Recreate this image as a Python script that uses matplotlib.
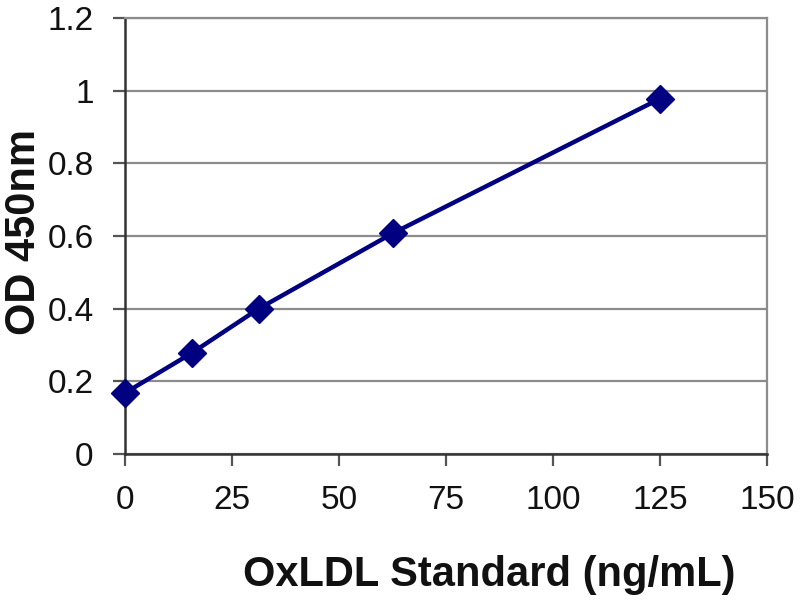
import matplotlib
matplotlib.use("Agg")
import matplotlib.pyplot as plt

conc = [0, 15.6, 31.25, 62.5, 125]
od = [0.168, 0.278, 0.400, 0.607, 0.978]
xticks = [0, 25, 50, 75, 100, 125, 150]
yticks = [0, 0.2, 0.4, 0.6, 0.8, 1.0, 1.2]
yticklabels = ["0", "0.2", "0.4", "0.6", "0.8", "1", "1.2"]

plt.rcParams['font.family'] = ['Liberation Sans', 'DejaVu Sans']

fig = plt.figure(figsize=(8, 6), dpi=100)
ax = fig.add_axes([125/800, 1-454/600, (767-125)/800, (454-18)/600])

ax.set_xlim(0, 150)
ax.set_ylim(0, 1.2)
ax.set_yticks(yticks)
ax.set_yticklabels(yticklabels)
ax.set_xticks(xticks)
ax.set_xticklabels([str(t) for t in xticks])

ax.grid(axis='y', color='#8c8c8c', linewidth=1.6)
ax.set_axisbelow(True)

for s in ['top', 'right']:
    ax.spines[s].set_color('#8c8c8c')
    ax.spines[s].set_linewidth(1.6)
for s in ['left', 'bottom']:
    ax.spines[s].set_color('#333333')
    ax.spines[s].set_linewidth(1.8)

ax.tick_params(axis='both', direction='out', length=8.5, width=1.6, color='#555555',
               labelsize=24, pad=14, labelcolor='#111111')

ax.plot(conc, od, color='#000080', linewidth=3.2, marker='D', markersize=14,
        markerfacecolor='#000080', markeredgecolor='#000080', clip_on=False, zorder=5)

fig.text(489/800, 1-575/600, 'OxLDL Standard (ng/mL)', fontsize=30, fontweight='bold',
         ha='center', va='center', color='#111111')
fig.text(24/800, 1-232/600, 'OD 450nm', fontsize=30, fontweight='bold',
         ha='center', va='center', rotation=90, color='#111111')

fig.savefig('out.png', dpi=100)
